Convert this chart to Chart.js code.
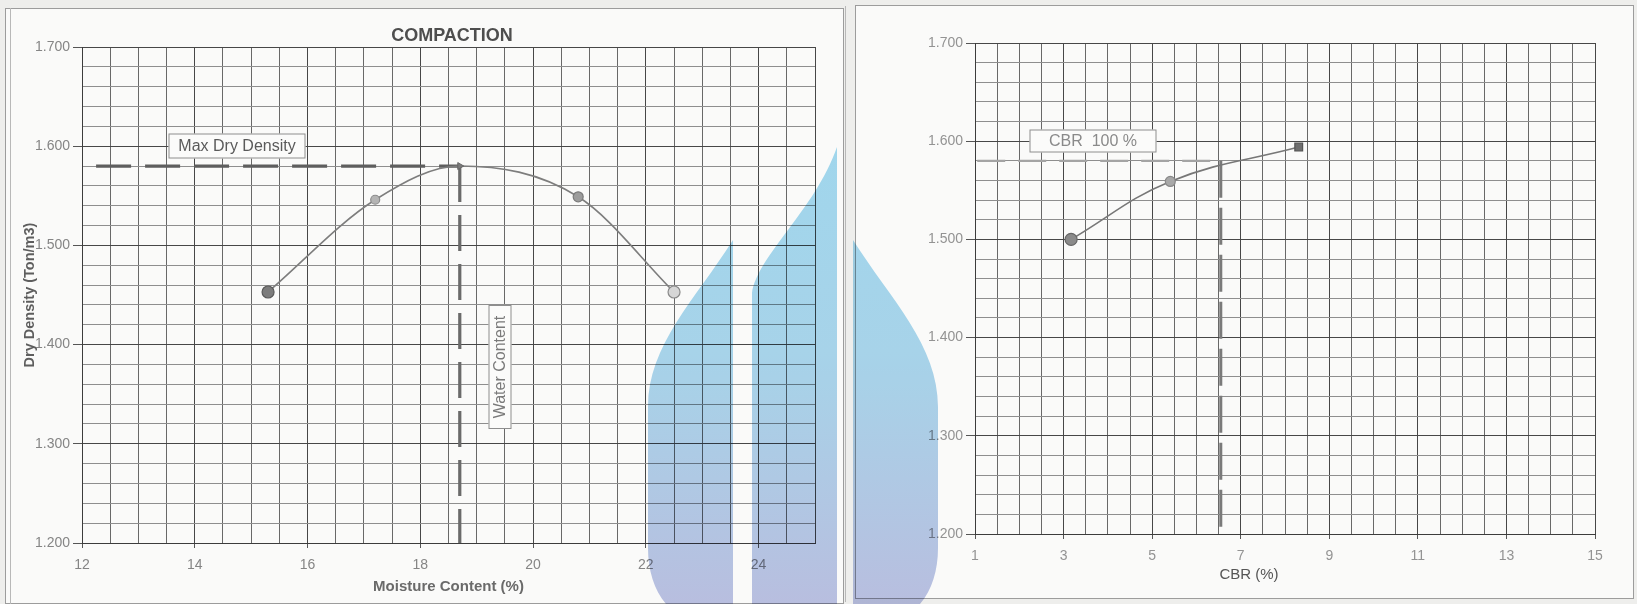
<!DOCTYPE html>
<html><head><meta charset="utf-8">
<script src="https://cdn.jsdelivr.net/npm/chart.js@4.4.1/dist/chart.umd.min.js"></script>
<style>
html,body{margin:0;padding:0;}
body{width:1637px;height:604px;position:relative;overflow:hidden;background:#eeeeec;font-family:"Liberation Sans",Arial,sans-serif;}
.panel{position:absolute;background:#fafaf9;border:1px solid #9c9c9c;box-sizing:border-box;}
#p1{left:5px;top:8px;width:839px;height:596px;}
#p2{left:855px;top:5px;width:779px;height:594px;}
.vline{position:absolute;width:1px;background:#b8b8b8;}
canvas.c{position:absolute;top:0;}
#c1{left:0;}
#c2{left:850px;}
#wm{position:absolute;left:0;top:0;mix-blend-mode:multiply;pointer-events:none;}
</style></head><body>
<div class="panel" id="p1"></div>
<div class="panel" id="p2"></div>
<div class="vline" style="left:10px;top:8px;height:596px;"></div>
<div class="vline" style="left:845px;top:6px;height:596px;"></div>
<canvas class="c" id="c1" width="850" height="604"></canvas>
<canvas class="c" id="c2" width="787" height="604"></canvas>
<canvas id="wm" width="1637" height="604"></canvas>
<script>
// ---------- data: compaction ----------
const moistureContent = [15.3, 17.2, 20.8, 22.5];
const dryDensity      = [1.453, 1.546, 1.549, 1.453];
const curveMoisture   = [15.3, 17.2, 18.7, 20.8, 22.5];
const curveDensity    = [1.453, 1.546, 1.580, 1.549, 1.453];
const maxDryDensity   = 1.580;
const optimumMoisture = 18.7;
const mddLineStartX   = 12.25;
const moistureTicks   = [12, 14, 16, 18, 20, 22, 24];
const densityTicks    = [1.2, 1.3, 1.4, 1.5, 1.6, 1.7];
// ---------- data: CBR ----------
const cbrValues       = [3.17, 5.41, 8.31];
const cbrDensity      = [1.500, 1.559, 1.594];
const cbrAtMdd        = 6.55;
const cbrLineStartX   = 1.05;
const cbrTicks        = [1, 3, 5, 7, 9, 11, 13, 15];

// marker styles (kept apart from the data)
const mcFill   = ['#7c7c7c', '#b4b4b4', '#9c9c9c', '#d6d6d6'];
const mcBorder = ['#5a5a5a', '#8c8c8c', '#7a7a7a', '#8a8a8a'];
const mcRadius = [6, 4.5, 5, 6];
const cbFill   = ['#8a8a8a', '#a8a8a8', '#6e6e6e'];
const cbBorder = ['#666', '#888', '#555'];
const cbStyle  = ['circle', 'circle', 'rect'];
const cbRadius = [6, 5, 5.5];

Chart.defaults.font.family = "'Liberation Sans', Arial, sans-serif";
const FONT = "'Liberation Sans', Arial, sans-serif";
const near = (arr, v) => arr.some(t => Math.abs(t - v) < 1e-6);
const pts = (xs, ys) => xs.map((x, i) => ({x, y: ys[i]}));

const textPlugin = {
  id: 'texts',
  afterDatasetsDraw(chart, args, opts) {
    const ctx = chart.ctx, xs = chart.scales.x, ys = chart.scales.y;
    (opts.boxes || []).forEach(b => {
      const cx = Math.round(xs.getPixelForValue(b.x)), cy = Math.round(ys.getPixelForValue(b.y));
      ctx.save();
      ctx.translate(cx, cy);
      if (b.rotate) ctx.rotate(-Math.PI / 2);
      ctx.fillStyle = '#fbfbfa';
      ctx.fillRect(-b.w / 2, -b.h / 2, b.w, b.h);
      ctx.strokeStyle = '#8e8e8e'; ctx.lineWidth = 1;
      ctx.strokeRect(-b.w / 2 + 0.5, -b.h / 2 + 0.5, b.w - 1, b.h - 1);
      ctx.font = b.font; ctx.fillStyle = b.color;
      ctx.textAlign = 'center'; ctx.textBaseline = 'middle';
      ctx.fillText(b.text, 0, 1);
      ctx.restore();
    });
    (opts.texts || []).forEach(t => {
      ctx.save();
      ctx.font = t.font; ctx.fillStyle = t.color;
      ctx.textAlign = 'center'; ctx.textBaseline = 'middle';
      ctx.fillText(t.text, t.px, t.py);
      ctx.restore();
    });
  }
};

function gridColor(majors, dark, light) {
  return c => (c.tick && (near(majors, c.tick.value)) ? dark : light);
}

function makeScales(cfg) {
  return {
    x: {
      type: 'linear', min: cfg.xmin, max: cfg.xmax,
      afterFit: s => { s.height = cfg.xh; },
      ticks: {
        stepSize: 0.5, maxTicksLimit: 1000, autoSkip: false, maxRotation: 0,
        padding: 9, color: cfg.tickColor, font: {size: 14},
        callback: v => near(cfg.xTicks, v) ? String(v) : ''
      },
      grid: {
        color: c => (c.tick && (near(cfg.xTicks, c.tick.value) || c.tick.value === cfg.xmax)) ? '#474747' : '#686868',
        tickColor: c => (c.tick && near(cfg.xTicks, c.tick.value)) ? '#555' : 'rgba(0,0,0,0)',
        tickLength: 5, lineWidth: 1
      },
      border: {color: '#3c3c3c', width: 1},
      title: cfg.xTitle
    },
    y: {
      type: 'linear', min: 1.2, max: 1.7,
      afterFit: s => { s.width = cfg.yw; },
      ticks: {
        stepSize: 0.02, maxTicksLimit: 1000, autoSkip: false,
        padding: 3, color: cfg.tickColor, font: {size: 14},
        callback: v => near(densityTicks, v) ? v.toFixed(3) : ''
      },
      grid: {
        color: gridColor(densityTicks, '#474747', '#8e8e8e'),
        tickColor: c => (c.tick && near(densityTicks, c.tick.value)) ? '#555' : 'rgba(0,0,0,0)',
        tickLength: 9, lineWidth: 1
      },
      border: {color: '#3c3c3c', width: 1},
      title: cfg.yTitle
    }
  };
}

// ---------- chart 1: compaction ----------
new Chart(document.getElementById('c1'), {
  type: 'scatter',
  data: {
    datasets: [
      { data: pts(moistureContent, dryDensity), showLine: false,
        pointBackgroundColor: mcFill, pointBorderColor: mcBorder, pointRadius: mcRadius, pointBorderWidth: 1.2 },
      { data: [{x: optimumMoisture, y: maxDryDensity}], showLine: false, pointStyle: 'triangle', rotation: 90,
        pointBackgroundColor: '#7a7a7a', pointBorderColor: '#666', pointRadius: 4 },
      { data: pts(curveMoisture, curveDensity), showLine: true, cubicInterpolationMode: 'monotone',
        borderColor: '#7d7d7d', borderWidth: 1.6, pointRadius: 0 },
      { data: [{x: mddLineStartX, y: maxDryDensity}, {x: optimumMoisture, y: maxDryDensity}], showLine: true,
        borderColor: '#5e5e5e', borderWidth: 3.2, borderDash: [35, 14], pointRadius: 0 },
      { data: [{x: optimumMoisture, y: maxDryDensity}, {x: optimumMoisture, y: 1.2}], showLine: true,
        borderColor: '#6a6a6a', borderWidth: 3.2, borderDash: [36, 13], pointRadius: 0 }
    ]
  },
  options: {
    responsive: false, animation: false, devicePixelRatio: 1,
    layout: {padding: {left: 0, top: 47, right: 35, bottom: 0}},
    plugins: {
      legend: {display: false}, tooltip: {enabled: false},
      texts: {
        boxes: [
          {text: 'Max Dry Density', x: 14.75, y: 1.600, w: 137, h: 25, font: '16px ' + FONT, color: '#5a5a5a'},
          {text: 'Water Content', x: 19.42, y: 1.377, w: 124, h: 23, rotate: true, font: '16px ' + FONT, color: '#7a7a7a'}
        ],
        texts: [
          {text: 'COMPACTION', px: 452, py: 36, font: 'bold 18px ' + FONT, color: '#4e4e4e'}
        ]
      }
    },
    scales: makeScales({
      xmin: 12, xmax: 25, xTicks: moistureTicks, xh: 61, yw: 82, tickColor: '#858585',
      xTitle: {display: true, text: 'Moisture Content (%)', color: '#6a6a6a', font: {size: 15, weight: 'bold'}, padding: {top: 0, bottom: 8}},
      yTitle: {display: true, text: 'Dry Density (Ton/m3)', color: '#5e5e5e', font: {size: 14.5, weight: 'bold'}, padding: {top: 21, bottom: 0}}
    })
  },
  plugins: [textPlugin]
});

// ---------- chart 2: CBR ----------
new Chart(document.getElementById('c2'), {
  type: 'scatter',
  data: {
    datasets: [
      { data: pts(cbrValues, cbrDensity), showLine: false, pointStyle: cbStyle,
        pointBackgroundColor: cbFill, pointBorderColor: cbBorder, pointRadius: cbRadius, pointBorderWidth: 1.2 },
      { data: pts(cbrValues, cbrDensity), showLine: true, tension: 0.4,
        borderColor: '#777', borderWidth: 1.6, pointRadius: 0 },
      { data: [{x: cbrLineStartX, y: maxDryDensity}, {x: cbrAtMdd, y: maxDryDensity}], showLine: true,
        borderColor: '#a4a4a4', borderWidth: 2.2, borderDash: [28, 13], pointRadius: 0 },
      { data: [{x: cbrAtMdd, y: maxDryDensity}, {x: cbrAtMdd, y: 1.2}], showLine: true,
        borderColor: '#7a7a7a', borderWidth: 3, borderDash: [37, 10], pointRadius: 0 }
    ]
  },
  options: {
    responsive: false, animation: false, devicePixelRatio: 1,
    layout: {padding: {left: 0, top: 43, right: 42, bottom: 0}},
    plugins: {
      legend: {display: false}, tooltip: {enabled: false},
      texts: {
        boxes: [
          {text: 'CBR  100 %', x: 3.675, y: 1.600, w: 127, h: 23, font: '16px ' + FONT, color: '#8a8a8a'}
        ],
        texts: [
          {text: 'CBR (%)', px: 399, py: 575, font: '15px ' + FONT, color: '#555'}
        ]
      }
    },
    scales: makeScales({
      xmin: 1, xmax: 15, xTicks: cbrTicks, xh: 70, yw: 125, tickColor: '#939393',
      xTitle: {display: false},
      yTitle: {display: false}
    })
  },
  plugins: [textPlugin]
});

// ---------- scan watermark ----------
(function () {
  const ctx = document.getElementById('wm').getContext('2d');
  const g = ctx.createLinearGradient(0, 145, 0, 604);
  g.addColorStop(0, '#a3dbf2');
  g.addColorStop(0.45, '#aad8ef');
  g.addColorStop(1, '#bcc2e5');
  ctx.fillStyle = g;
  function flame(m) { // m: mirror about x=793
    const X = x => m ? 1586 - x : x;
    ctx.beginPath();
    ctx.moveTo(X(733), 240);
    ctx.lineTo(X(733), 604);
    ctx.lineTo(X(666), 604);
    ctx.bezierCurveTo(X(654), 590, X(648), 570, X(648), 548);
    ctx.lineTo(X(648), 407);
    ctx.bezierCurveTo(X(648), 345, X(695), 300, X(733), 240);
    ctx.closePath();
    ctx.fill();
  }
  flame(false);
  flame(true);
  ctx.beginPath();
  ctx.moveTo(752, 604);
  ctx.lineTo(752, 293);
  ctx.bezierCurveTo(758, 255, 815, 210, 837, 147);
  ctx.lineTo(837, 604);
  ctx.closePath();
  ctx.fill();
})();
</script>
</body></html>
